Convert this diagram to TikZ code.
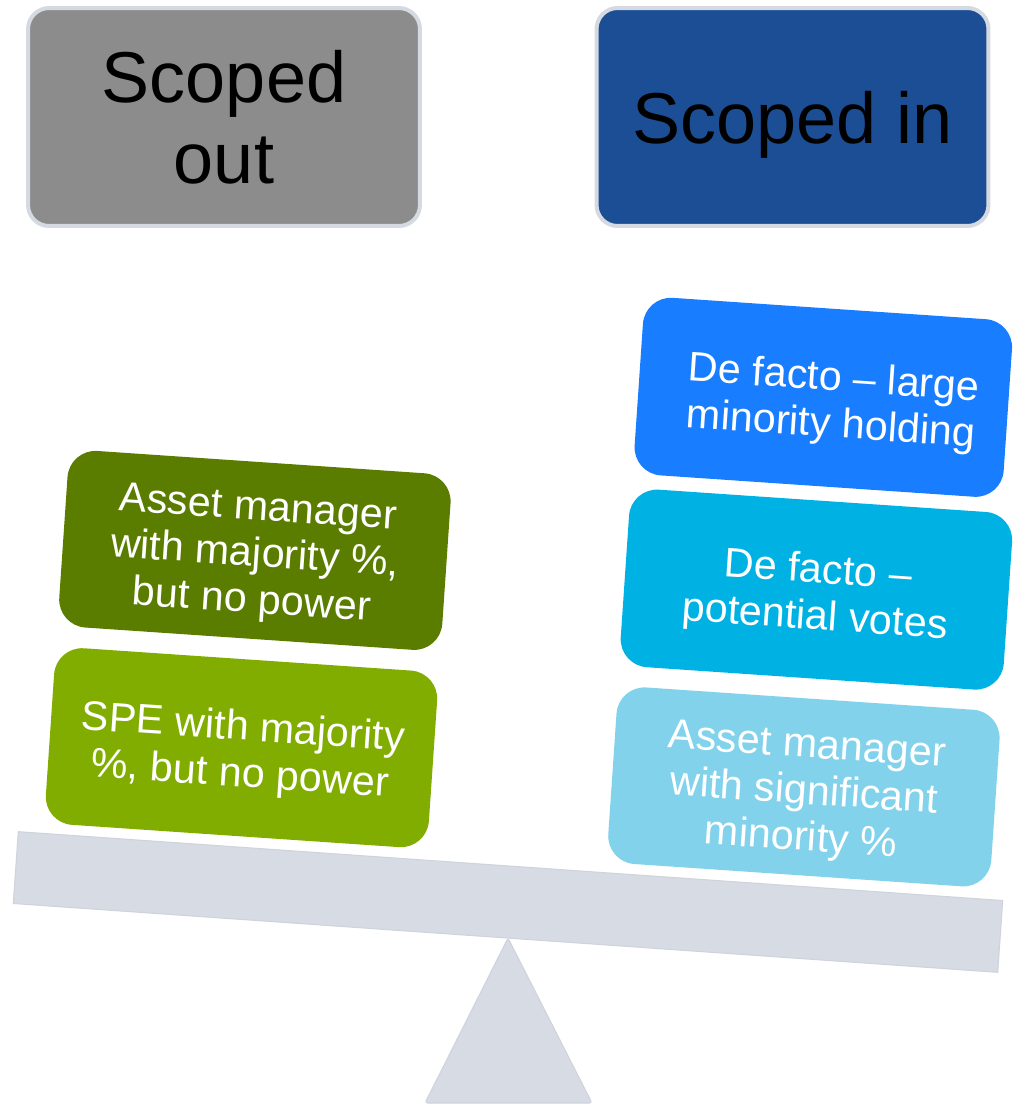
\documentclass[tikz,border=0pt]{standalone}
\usepackage{fontspec}
\setmainfont{Liberation Sans}
\definecolor{rim}{HTML}{D5D9E2}
\definecolor{steel}{HTML}{D7DBE3}
\definecolor{steeledge}{HTML}{CFD3DC}
\definecolor{outgray}{HTML}{8C8C8C}
\definecolor{inblue}{HTML}{1C4E95}
\definecolor{bluebright}{HTML}{187DFF}
\definecolor{bluecyan}{HTML}{00B2E3}
\definecolor{bluepale}{HTML}{82D2EC}
\definecolor{greendark}{HTML}{5A7D00}
\definecolor{greenlight}{HTML}{80AD00}
\begin{document}
\begin{tikzpicture}[x=0.02cm, y=-0.02cm,
  header/.style={draw=rim, line width=0.08cm, rounded corners=0.42cm,
    minimum width=7.84cm, minimum height=4.36cm, inner sep=0pt,
    align=center, text=black, text depth=0pt,
    font=\fontsize{41}{46.5}\selectfont},
  weight/.style={rotate=-3.9, rounded corners=0.56cm,
    minimum width=7.68cm, minimum height=3.54cm, inner sep=0pt},
  caption/.style={rotate=-3.9, inner sep=0pt, align=center, text=white,
    font=\fontsize{23.5}{26.5}\selectfont},
  metal/.style={fill=steel, draw=steeledge, line width=0.6pt}]

% page frame
\path[use as bounding box] (0,0) rectangle (1012,1104);

% column headers
\node[header, fill=outgray] (out) at (224,117) {Scoped\\out};
\node[header, fill=inblue]  (in)  at (792.5,117) {Scoped in};

% fulcrum
\coordinate (apex)  at (508,938);
\coordinate (footL) at (425,1103);
\coordinate (footR) at (592,1103);
\draw[metal, rounded corners=1.5pt] (apex) -- (footR) -- (footL) -- cycle;

% beam of the balance
\node[metal, rotate=-4, minimum width=19.74cm, minimum height=1.44cm,
      inner sep=0pt] (beam) at (508,902) {};

% weights on the left pan
\node[weight, fill=greendark]  (amMaj) at (254.9,550.4) {};
\node[caption] (amMajText) at ([yshift=-0.12cm]amMaj.center)
  {Asset manager\\with majority \%,\\but no power};
\node[weight, fill=greenlight] (spe)   at (241.5,747.7) {};
\node[caption] (speText) at ([yshift=-0.1cm]spe.center)
  {SPE with majority\\\%, but no power};

% weights on the right pan
\node[weight, fill=bluebright, minimum width=7.4cm, minimum height=3.56cm]
  (large) at (823.3,397.3) {};
\node[caption] (largeText) at ([xshift=0.18cm, yshift=-0.12cm]large.center)
  {De facto -- large\\minority holding};
\node[weight, fill=bluecyan, minimum height=3.56cm]
  (votes) at (816.4,589.6) {};
\node[caption] (votesText) at ([yshift=-0.12cm]votes.center)
  {De facto --\\potential votes};
\node[weight, fill=bluepale]   (amMin) at (803.9,786.9) {};
\node[caption] (amMinText) at ([yshift=-0.14cm]amMin.center)
  {Asset manager\\with significant\\minority \%};
\end{tikzpicture}
\end{document}
